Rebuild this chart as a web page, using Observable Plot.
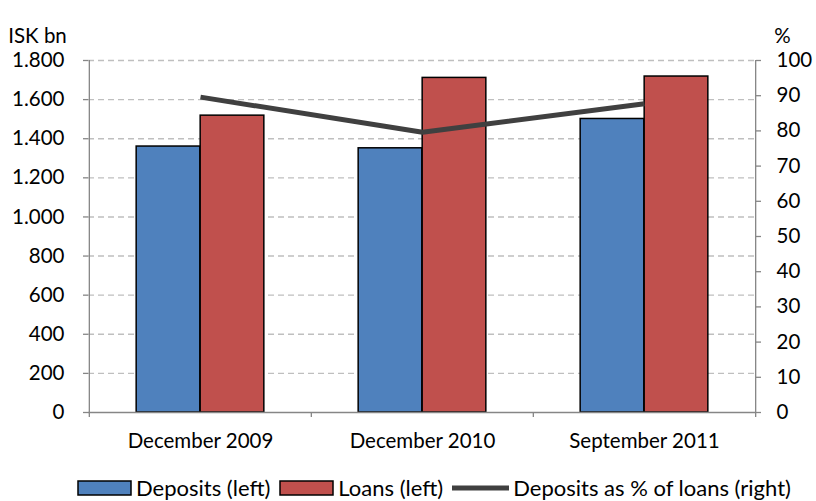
<!DOCTYPE html>
<html>
<head>
<meta charset="utf-8">
<script src="https://cdn.jsdelivr.net/npm/d3@7"></script>
<script src="https://cdn.jsdelivr.net/npm/@observablehq/plot@0.6"></script>
<style>
  body { margin: 0; background: #fff; font-family: Lato, "Open Sans", sans-serif; }
  #wrap { position: relative; width: 816px; height: 501px; overflow: hidden; }
  #legend { position: absolute; left: 77px; top: 475px; height: 26px; display: flex; align-items: center; font-size: 22px; color: #000; white-space: nowrap; line-height: 26px; }
  #legend .item { display: flex; align-items: center; }
  #legend .item span { margin-left: 4px; margin-right: 9px; }
</style>
</head>
<body>
<div id="wrap">
  <div id="chart"></div>
  <div id="legend"></div>
</div>
<script>
const categories = ["December 2009", "December 2010", "September 2011"];
const deposits = [1360, 1351, 1501];
const loans = [1518, 1711, 1718];
const depositsPctOfLoans = [89.6, 79.6, 87.7];
const leftTicks = [0, 200, 400, 600, 800, 1000, 1200, 1400, 1600, 1800];
const rightTicks = [0, 10, 20, 30, 40, 50, 60, 70, 80, 90, 100];
const seriesNames = ["Deposits (left)", "Loans (left)", "Deposits as % of loans (right)"];
const leftLabel = "ISK bn";
const rightLabel = "%";

const colors = { deposits: "#4F81BD", loans: "#C0504D", line: "#404040" };
const W = 816, H = 470, mL = 88, mR = 61, mT = 60, mB = 58;
const bw = (W - mL - mR) / categories.length;
const barW = 64;
const yMax = 1800, pMax = 100, k = yMax / pMax;
const tickLenUnits = 5 * yMax / (H - mT - mB);
const fs = 20.5;

const rows = categories.map((c, i) => ({ category: c, deposits: deposits[i], loans: loans[i], pct: depositsPctOfLoans[i] }));
const fmt = d3.formatLocale({ decimal: ",", thousands: ".", grouping: [3], currency: ["", ""] }).format(",");
const axisGray = "#868686";

const chart = Plot.plot({
  width: W, height: H,
  marginLeft: mL, marginRight: mR, marginTop: mT, marginBottom: mB,
  style: { fontFamily: "Lato, 'Open Sans', sans-serif", fontSize: fs + "px", color: "#000", background: "#fff", overflow: "visible" },
  x: { domain: categories, padding: 0, axis: null },
  y: { domain: [0, yMax], axis: null },
  marks: [
    Plot.ruleY(leftTicks.filter(d => d > 0), { stroke: "#bfbfbf", strokeWidth: 1.4, strokeDasharray: "6,4" }),
    Plot.barY(rows, { x: "category", y: "deposits", fill: colors.deposits, stroke: "#000", strokeWidth: 1.5, insetLeft: bw / 2 - barW, insetRight: bw / 2 }),
    Plot.barY(rows, { x: "category", y: "loans", fill: colors.loans, stroke: "#000", strokeWidth: 1.5, insetLeft: bw / 2, insetRight: bw / 2 - barW }),
    Plot.ruleY([0], { stroke: axisGray, strokeWidth: 1.3 }),
    Plot.ruleX([categories[0]], { x: d => d, dx: -bw / 2, y1: -tickLenUnits, y2: yMax, stroke: axisGray, strokeWidth: 1.3 }),
    Plot.ruleX([categories[categories.length - 1]], { x: d => d, dx: bw / 2, y1: -tickLenUnits, y2: yMax, stroke: axisGray, strokeWidth: 1.3 }),
    Plot.ruleX(categories.slice(1), { x: d => d, dx: -bw / 2, y1: -tickLenUnits, y2: 0, stroke: axisGray, strokeWidth: 1.3 }),
    Plot.line(rows, { x: "category", y: d => d.pct * k, stroke: colors.line, strokeWidth: 5, strokeLinecap: "butt" }),
    Plot.axisY(leftTicks, { anchor: "left", tickSize: 5, tickPadding: 19, tickFormat: fmt, stroke: axisGray, strokeWidth: 1.3, fill: "#000", label: null, fontSize: fs }),
    Plot.axisY(rightTicks.map(d => d * k), { anchor: "right", tickSize: 5, tickPadding: 16, tickFormat: d => fmt(Math.round(d / k)), stroke: axisGray, strokeWidth: 1.3, fill: "#000", label: null, fontSize: fs }),
    Plot.axisX(categories, { anchor: "bottom", tickSize: 0, tickPadding: 21, fill: "#000", label: null, fontSize: fs }),
    Plot.text([leftLabel], { text: d => d, frameAnchor: "top-left", dx: -51, dy: -32, textAnchor: "middle", fontSize: fs, fill: "#000" }),
    Plot.text([rightLabel], { text: d => d, frameAnchor: "top-right", dx: 27, dy: -32, textAnchor: "middle", fontSize: fs, fill: "#000" })
  ]
});
document.getElementById("chart").appendChild(chart);

const legend = document.getElementById("legend");
const swatches = [
  `<svg width="55" height="16"><rect x="1" y="1" width="53" height="14" fill="${colors.deposits}" stroke="#000" stroke-width="1.5"/></svg>`,
  `<svg width="55" height="16"><rect x="1" y="1" width="53" height="14" fill="${colors.loans}" stroke="#000" stroke-width="1.5"/></svg>`,
  `<svg width="57" height="16"><line x1="0" y1="8" x2="57" y2="8" stroke="${colors.line}" stroke-width="5"/></svg>`
];
seriesNames.forEach((name, i) => {
  const el = document.createElement("div");
  el.className = "item";
  el.innerHTML = swatches[i] + `<span>${name}</span>`;
  legend.appendChild(el);
});
</script>
</body>
</html>
